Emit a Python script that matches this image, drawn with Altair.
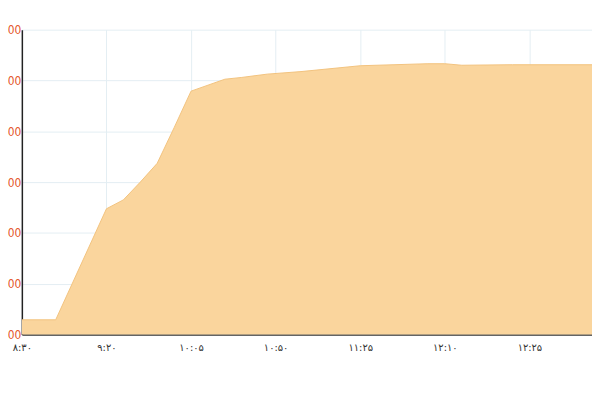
import json

import altair as alt
import pandas as pd

# sample index along the session (5-minute steps) and the index value
step = [0, 4, 10, 12, 14, 16, 18, 20, 24, 26, 29, 33, 40, 48, 50, 52, 58, 68]
price = [4858, 4858, 5295, 5330, 5400, 5474, 5614, 5758, 5805, 5812,
         5825, 5835, 5858, 5866, 5866, 5860, 5862, 5862]

tick_steps = [0, 10, 20, 30, 40, 50, 60]
tick_labels = ["۸:۳۰", "۹:۲۰", "۱۰:۰۵", "۱۰:۵۰", "۱۱:۲۵", "۱۲:۱۰", "۱۲:۲۵"]
y_ticks = [4800, 5000, 5200, 5400, 5600, 5800, 6000]

df = pd.DataFrame({"step": step, "price": price})

label_expr = json.dumps(tick_labels, ensure_ascii=False) + "[round(datum.value / 10)]"

chart = (
    alt.Chart(df)
    .mark_area(
        color="#FAD59D",
        opacity=1,
        line={"color": "#F2C27E", "strokeWidth": 1},
        clip=True,
    )
    .encode(
        x=alt.X(
            "step:Q",
            scale=alt.Scale(domain=[0, 67.4], nice=False, zero=False),
            axis=alt.Axis(
                values=tick_steps,
                labelExpr=label_expr,
                labelFlush=False,
                title=None,
                grid=True,
                gridColor="#E4EEF3",
                ticks=False,
                domainColor="#333333",
                domainWidth=1.5,
                labelFont="DejaVu Sans",
                labelFontSize=10,
                labelColor="#333333",
                labelPadding=8,
            ),
        ),
        y=alt.Y(
            "price:Q",
            scale=alt.Scale(domain=[4800, 6000], nice=False, zero=False),
            axis=alt.Axis(
                values=y_ticks,
                format="d",
                labelFlush=False,
                title=None,
                grid=True,
                gridColor="#E4EEF3",
                ticks=False,
                domainColor="#222222",
                domainWidth=1.5,
                labelFont="Liberation Sans Narrow, DejaVu Sans Condensed, sans-serif",
                labelFontSize=12,
                labelColor="#E4572E",
                labelPadding=1,
            ),
        ),
    )
    .properties(
        width=576,
        height=308,
        autosize=alt.AutoSizeParams(type="none"),
        padding={"left": 14, "top": 20, "right": 0, "bottom": 40},
    )
    .configure_view(stroke=None)
)

chart.save("out.html", embed_options={"renderer": "svg", "actions": False})
